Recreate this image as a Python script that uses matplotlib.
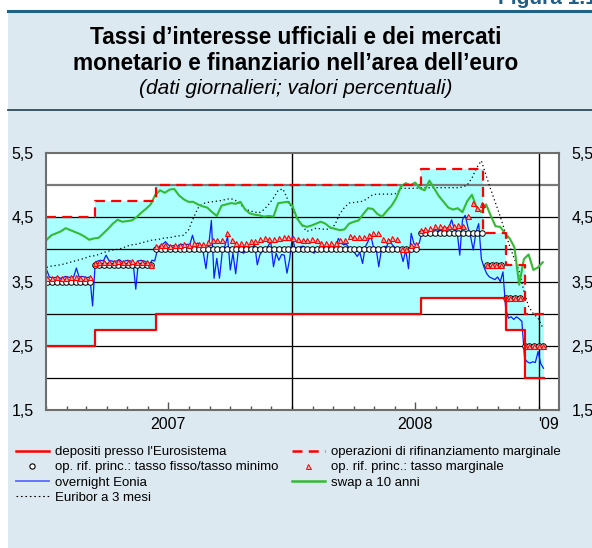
import numpy as np
import pandas as pd
import matplotlib
matplotlib.use('Agg')
import matplotlib.pyplot as plt
import matplotlib.dates as mdates
import matplotlib.ticker
from matplotlib.lines import Line2D
from matplotlib.patches import Rectangle

plt.rcParams['font.family'] = ['Liberation Sans', 'DejaVu Sans']

# tassi ufficiali BCE (date di variazione)
policy_dates = ['2007-01-01', '2007-03-14', '2007-06-13', '2008-07-09', '2008-10-09',
                '2008-10-15', '2008-11-12', '2008-12-10', '2009-01-08']
depositi = [2.50, 2.75, 3.00, 3.25, 3.25, 3.25, 2.75, 2.00, 2.00]
mro = [3.50, 3.75, 4.00, 4.25, 4.25, 3.75, 3.25, 2.50, 2.50]
marginale = [4.50, 4.75, 5.00, 5.25, 4.25, 4.25, 3.75, 3.00, 3.00]

# aste settimanali di rifinanziamento principale: tasso marginale
asta_start = '2007-01-03'
tasso_marg = [3.56, 3.56, 3.57, 3.56, 3.56, 3.57, 3.57, 3.56, 3.56, 3.57,
              3.79, 3.80, 3.80, 3.81, 3.81, 3.82, 3.80, 3.81, 3.82, 3.81, 3.80, 3.81, 3.75,
              4.06, 4.07, 4.07, 4.06, 4.07, 4.07, 4.08, 4.07,
              4.10, 4.09, 4.08, 4.12, 4.14, 4.14, 4.14, 4.25, 4.14, 4.10,
              4.10, 4.10, 4.13, 4.13, 4.16, 4.17, 4.16, 4.16, 4.17, 4.20,
              4.19, 4.17, 4.16, 4.14, 4.14, 4.16, 4.15, 4.10, 4.10, 4.10,
              4.10, 4.14, 4.15, 4.21, 4.20, 4.20, 4.20, 4.22, 4.25, 4.25,
              4.16, 4.15, 4.17, 4.16, 4.00, 4.01, 4.07, 4.08,
              4.30, 4.32, 4.34, 4.36, 4.36, 4.35, 4.36, 4.36, 4.38, 4.36, 4.52, 4.72, 4.64, 4.70,
              3.75, 3.75, 3.75, 3.75, 3.25, 3.25, 3.25, 3.25, 2.50, 2.50, 2.50, 2.50, 2.50]

# eonia (un valore ogni 4 giorni)
eonia_start = '2007-01-02'
eonia = [3.68, 3.57, 3.56, 3.56, 3.57, 3.55, 3.56, 3.58, 3.57, 3.56,
         3.57, 3.71, 3.57, 3.58, 3.57, 3.56, 3.57, 3.12,
         3.80, 3.82, 3.83, 3.82, 3.91, 3.83, 3.82, 3.81, 3.82, 3.84,
         3.80, 3.82, 3.83, 3.82, 3.80, 3.38, 3.82, 3.83, 3.82, 3.80, 3.76, 3.83, 3.82,
         3.99, 4.06, 4.08, 4.12, 4.07, 4.05, 4.06, 4.02, 4.07, 4.08, 4.06, 4.08, 4.07, 4.22,
         4.07, 4.10, 4.05, 3.95, 3.70, 4.05, 4.45, 3.55, 3.86, 3.55,
         3.95, 4.05, 4.20, 3.68, 3.94, 3.62, 3.99, 3.96, 3.94, 4.02,
         3.99, 3.97, 4.09, 3.76, 3.92, 3.98, 3.99, 4.05, 4.12, 3.73,
         3.94, 3.83, 3.92, 3.91, 3.63,
         3.85, 4.20, 4.00, 3.99, 4.04, 4.05, 4.02, 4.00, 3.98, 3.94,
         4.00, 4.03, 4.02, 4.05, 4.00, 4.03, 4.05, 4.02, 4.17, 4.10,
         4.07, 4.08, 4.02, 3.99, 3.95, 3.89, 3.95, 3.78, 4.04, 4.12,
         4.22, 4.04, 4.02, 3.73, 4.00, 4.04, 4.05, 4.15, 4.07, 4.03,
         4.02, 3.98, 3.81, 3.99, 3.70, 4.25, 4.09, 4.05,
         4.10, 4.27, 4.30, 4.27, 4.29, 4.28, 4.32, 4.30, 4.28, 4.30,
         4.33, 4.35, 4.46, 4.30, 4.28, 3.91, 4.46, 4.53, 4.35, 4.20,
         3.99, 4.27, 4.40, 3.85, 3.72, 3.62, 3.57, 3.55, 3.53, 3.57,
         3.50, 3.65,
         3.08, 2.93, 2.95, 2.91, 2.95, 2.92, 2.88, 2.30, 2.25, 2.23,
         2.25, 2.24, 2.41, 2.22, 2.15]

# swap a 10 anni ed euribor a 3 mesi (valori settimanali)
sett_start = '2007-01-02'
swap10 = [4.15, 4.22, 4.25, 4.28, 4.33, 4.30, 4.27, 4.24, 4.20, 4.15,
          4.17, 4.18, 4.25, 4.32, 4.40, 4.46, 4.43, 4.44, 4.45, 4.50,
          4.57, 4.63, 4.70, 4.85, 4.92, 4.88, 4.93, 4.94, 4.84, 4.78,
          4.74, 4.74, 4.70, 4.67, 4.65, 4.58, 4.52, 4.68, 4.70, 4.72,
          4.71, 4.74, 4.62, 4.56, 4.54, 4.53, 4.51, 4.52, 4.51, 4.72,
          4.73, 4.74, 4.68, 4.48, 4.38, 4.35, 4.37, 4.40, 4.43, 4.40,
          4.34, 4.32, 4.30, 4.31, 4.40, 4.43, 4.45, 4.55, 4.64, 4.63,
          4.55, 4.51, 4.60, 4.68, 4.80, 4.98, 5.03, 5.00, 5.04, 4.95,
          4.92, 5.07, 4.95, 4.83, 4.74, 4.65, 4.62, 4.64, 4.58, 4.75,
          4.85, 4.65, 4.58, 4.70, 4.52, 4.36, 4.35, 4.25, 4.17, 4.03,
          3.45, 3.85, 3.92, 3.68, 3.72, 3.80]
euribor3m = [3.72, 3.74, 3.75, 3.76, 3.78, 3.80, 3.82, 3.84, 3.86, 3.89,
             3.90, 3.92, 3.95, 3.97, 3.99, 4.00, 4.02, 4.05, 4.07, 4.08,
             4.10, 4.12, 4.14, 4.15, 4.16, 4.18, 4.18, 4.20, 4.21, 4.22,
             4.30, 4.48, 4.64, 4.71, 4.73, 4.74, 4.75, 4.76, 4.78, 4.79,
             4.76, 4.70, 4.63, 4.60, 4.58, 4.57, 4.62, 4.70, 4.80, 4.92,
             4.94, 4.78, 4.62, 4.50, 4.38, 4.28, 4.30, 4.33, 4.32, 4.31,
             4.32, 4.38, 4.55, 4.65, 4.72, 4.73, 4.74, 4.75, 4.80, 4.85,
             4.86, 4.86, 4.86, 4.86, 4.87, 4.95, 4.95, 4.95, 4.95, 4.96,
             4.96, 4.96, 4.96, 4.96, 4.96, 4.96, 4.96, 4.96, 4.97, 5.00,
             5.11, 5.27, 5.38, 5.15, 4.93, 4.72, 4.51, 4.28, 4.05, 3.85,
             3.66, 3.35, 3.11, 3.00, 2.93, 2.78]

year_ticks = ['2007-07-01', '2008-07-01', '2009-01-15']
year_labels = ['2007', '2008', "'09"]
y_labels = [1.5, 2.5, 3.5, 4.5, 5.5]
y_grid = [2.0, 2.5, 3.0, 3.5, 4.0, 4.5]

W, H = 592, 548
fig = plt.figure(figsize=(W/100, H/100), dpi=100)

# cornice del riquadro
fig.patches.append(Rectangle((8/W, 0), 1, 1-11/H, transform=fig.transFigure,
                             facecolor='#dde9f1', edgecolor='none', zorder=-10))
fig.add_artist(Line2D([8/W, 1], [1-11/H, 1-11/H], color='#1f6285', lw=2.2))
fig.add_artist(Line2D([8/W, 1], [1-110/H, 1-110/H], color='#2e4c5c', lw=1.3))
fig.text(498/W, 1-4/H, 'Figura 1.1', color='#1f5f88', fontsize=15, fontweight='bold',
         ha='left', va='baseline')
fig.text(0.5, 1-37/H, 'Tassi d\u2019interesse ufficiali e dei mercati', ha='center', va='center',
         fontsize=16.3, fontweight='bold')
fig.text(0.5, 1-63/H, 'monetario e finanziario nell\u2019area dell\u2019euro', ha='center', va='center',
         fontsize=16.3, fontweight='bold')
fig.text(0.5, 1-89/H, '(dati giornalieri; valori percentuali)', ha='center', va='center',
         fontsize=15, style='italic')

ax = fig.add_axes([46/W, 1-410/H, 513/W, 257/H])
ax.set_facecolor('white')

pdates = pd.to_datetime(policy_dates)
ax.fill_between(pdates, depositi, marginale, step='post', color='#aaffff', lw=0, zorder=1)

for g in y_grid:
    ax.axhline(g, color='black', lw=0.9, zorder=2)
ax.axhline(5.0, color='#7a7a7a', lw=1.6, zorder=2)
for d in ['2008-01-01', '2009-01-01']:
    ax.axvline(pd.Timestamp(d), color='black', lw=1.0, zorder=2)

sett = pd.date_range(sett_start, periods=len(swap10), freq='7D')
ax.plot(sett, euribor3m, color='black', lw=0.9, ls=(0, (1, 2.2)), zorder=3)
ax.plot(sett, swap10, color='#33bb33', lw=1.5, zorder=4)

edates = pd.date_range(eonia_start, periods=len(eonia), freq='4D')
ax.plot(edates, eonia, color='#0a1eff', lw=0.9, zorder=4)

aste = pd.date_range(asta_start, periods=len(tasso_marg), freq='7D')
idx = np.searchsorted(pdates.values, aste.values, side='right') - 1
tasso_fisso = np.array(mro)[idx]
ax.plot(aste, tasso_fisso, ls='none', marker='o', ms=4, mfc='white', mec='black', mew=0.7, zorder=5)
ax.plot(aste, tasso_marg, ls='none', marker='^', ms=3.6, mfc='#ffb0b0', mec='red', mew=0.8, zorder=6)

ax.plot(pdates, depositi, drawstyle='steps-post', color='red', lw=1.6, zorder=7)
ax.plot(pdates, marginale, drawstyle='steps-post', color='red', lw=1.6, dashes=(4.5, 2.8), zorder=7)

ax.set_xlim(pd.Timestamp('2007-01-01'), pd.Timestamp('2009-01-30'))
ax.set_ylim(1.5, 5.5)

ax.set_yticks(y_labels)
ax.yaxis.set_major_formatter(matplotlib.ticker.FuncFormatter(lambda v, p: f'{v:.1f}'.replace('.', ',')))
ax.tick_params(axis='y', length=0, labelsize=11.5, labelleft=True, labelright=True, pad=9)

ax.set_xticks(pd.to_datetime(year_ticks))
ax.set_xticklabels(year_labels)
ax.xaxis.set_minor_locator(mdates.MonthLocator())
ax.tick_params(axis='x', which='major', direction='in', length=6, width=1, color='#555555',
               labelsize=11.5, pad=5)
ax.tick_params(axis='x', which='minor', direction='in', length=3, width=1, color='#555555')
ax.xaxis.get_major_ticks()[2].tick1line.set_visible(False)

for s in ax.spines.values():
    s.set_color('#6e6e6e')
    s.set_linewidth(1.5)
    s.set_zorder(8)

# legenda su due colonne
h_dep = Line2D([], [], color='red', lw=1.8)
h_mlf = Line2D([], [], color='red', lw=1.8, dashes=(4, 2.5))
h_fix = Line2D([], [], ls='none', marker='o', ms=3.8, mfc='white', mec='black', mew=0.8)
h_marg = Line2D([], [], ls='none', marker='^', ms=3.6, mfc='#ffb0b0', mec='red', mew=0.7)
h_eon = Line2D([], [], color='#5a6aff', lw=1.3)
h_swap = Line2D([], [], color='#33bb33', lw=1.8)
h_eur = Line2D([], [], color='black', lw=0.8, ls=(0, (1.5, 2.5)))

leg_kw = dict(loc='upper left', frameon=False, fontsize=9.5, handlelength=2.5,
              handletextpad=0.45, labelspacing=0.22, borderpad=0, borderaxespad=0)
fig.legend([h_dep, h_fix, h_eon, h_eur],
           ["depositi presso l'Eurosistema", 'op. rif. princ.: tasso fisso/tasso minimo',
            'overnight Eonia', 'Euribor a 3 mesi'],
           bbox_to_anchor=(16/W, 1-446/H), **leg_kw)
fig.legend([h_mlf, h_marg, h_swap],
           ['operazioni di rifinanziamento marginale', 'op. rif. princ.: tasso marginale',
            'swap a 10 anni'],
           bbox_to_anchor=(292/W, 1-446/H), **leg_kw)

fig.savefig('out.png', dpi=100)
